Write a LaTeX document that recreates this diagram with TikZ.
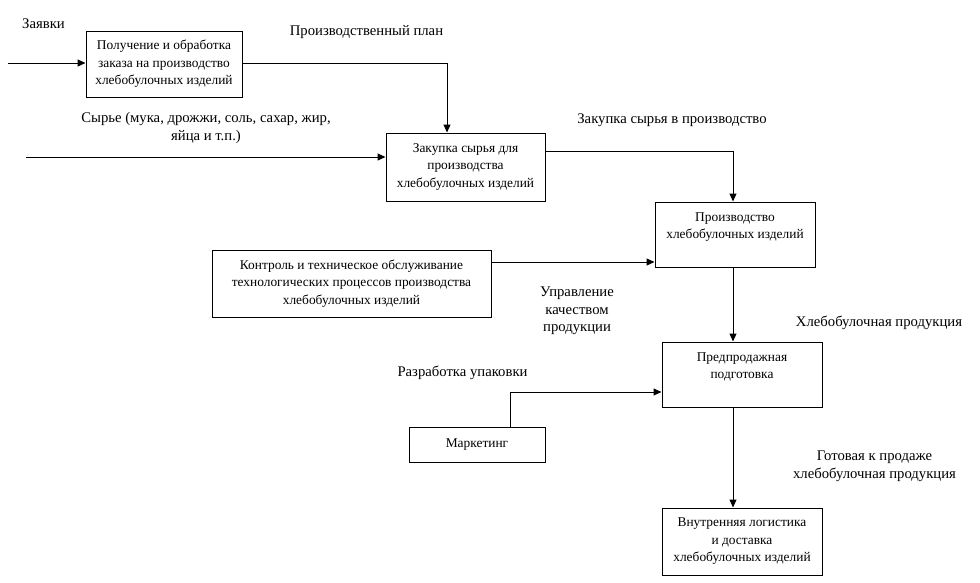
\documentclass[tikz,border=0pt]{standalone}
\usepackage{fontspec}
\setmainfont{Liberation Serif}
\usetikzlibrary{arrows.meta}
\begin{document}
\begin{tikzpicture}[x=1pt,y=-1pt,
  box/.style={draw, line width=1pt, align=center, inner sep=0pt,
    font=\fontsize{13.4}{17.5}\selectfont},
  lbl/.style={align=center, inner sep=0pt, font=\fontsize{14.7}{17.5}\selectfont},
  arr/.style={line width=1pt, -{Triangle[length=8pt,width=7pt]}}]
\useasboundingbox (0,0) rectangle (980,582);
% boxes
\node[box, minimum width=156pt, minimum height=66pt] (b1) at (164,64)
  {Получение и обработка\\заказа на производство\\хлебобулочных изделий};
\node[box, minimum width=159pt, minimum height=68pt] (b2) at (465.5,167)
  {Закупка сырья для\\производства\\хлебобулочных изделий};
\node[box, minimum width=160pt, minimum height=65pt] (b3) at (735,234.5)
  {Производство\\хлебобулочных изделий\\\mbox{}};
\node[box, minimum width=279pt, minimum height=67pt] (b4) at (351.5,283.5)
  {Контроль и техническое обслуживание\\технологических процессов производства\\хлебобулочных изделий};
\node[box, minimum width=136pt, minimum height=35pt] (b5) at (477,444.5)
  {Маркетинг};
\node[box, minimum width=160pt, minimum height=65pt] (b6) at (742,374.5)
  {Предпродажная\\подготовка\\\mbox{}};
\node[box, minimum width=160pt, minimum height=67pt] (b7) at (742,541.5)
  {Внутренняя логистика\\и доставка\\хлебобулочных изделий};
% labels
\node[lbl, anchor=west] (l1) at (22,24) {Заявки};
\node[lbl] (l2) at (366.5,32) {Производственный план};
\node[lbl] (l3) at (206,128) {Сырье (мука, дрожжи, соль, сахар, жир,\\яйца и т.п.)};
\node[lbl] (l4) at (672,120) {Закупка сырья в производство};
\node[lbl] (l5) at (577,311) {Управление\\качеством\\продукции};
\node[lbl] (l6) at (879,323) {Хлебобулочная продукция};
\node[lbl] (l7) at (462.5,373) {Разработка упаковки};
\node[lbl] (l8) at (874.5,466.5) {Готовая к продаже\\хлебобулочная продукция};
% helper coordinates
\coordinate (zin) at (8,63);
\coordinate (sin) at (26,157);
\coordinate (c1) at (447,63);
\coordinate (c2) at (733,151);
\coordinate (c3) at (0,262);
\coordinate (c4) at (510,392);
% connectors
\draw[arr] (zin) -- (b1.west |- zin);
\draw[arr] (b1.east |- c1) -| (b2.north -| c1);
\draw[arr] (sin) -- (b2.west |- sin);
\draw[arr] (b2.east |- c2) -| (b3.north -| c2);
\draw[arr] (b4.east |- c3) -- (b3.west |- c3);
\draw[arr] (b3.south -| c2) -- (b6.north -| c2);
\draw[arr] (b5.north -| c4) |- (b6.west |- c4);
\draw[arr] (b6.south -| c2) -- (b7.north -| c2);
\end{tikzpicture}
\end{document}
